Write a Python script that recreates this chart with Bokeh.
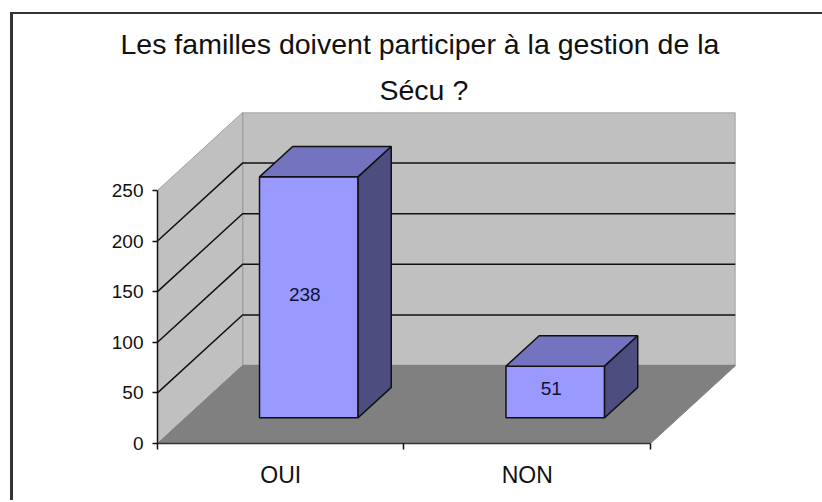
from bokeh.plotting import figure
from bokeh.models import Range1d, FixedTicker, Title
from bokeh.embed import file_html
from bokeh.resources import INLINE
from bokeh.core.properties import value as val

TITLE_LINES = ["Les familles doivent participer à la gestion de la", "Sécu ?"]
categories = ["OUI", "NON"]
values = [238, 51]
y_ticks = [0, 50, 100, 150, 200, 250]

FONT = "Liberation Sans"
# oblique projection: a point at depth d (0 front .. 1 back) is shifted by d*DX, d*DY in data units
DX = 0.345
DY = 77.0
BAR_W = 0.40
D_FRONT, D_BACK = 0.33, 0.72
n = len(categories)
ymax = y_ticks[-1]

def pt(x, y, d):
    return x + d * DX, y + d * DY

def quad(*corners):
    xs, ys = zip(*[pt(*c) for c in corners])
    return list(xs), list(ys)

p = figure(width=809, height=488, output_backend="svg", toolbar_location=None, title=None,
           x_range=Range1d(0, n + DX), y_range=Range1d(0, ymax + DY),
           min_border_left=144, min_border_right=87, min_border_top=98, min_border_bottom=59,
           background_fill_color=None, border_fill_color="white", outline_line_color=None,
           margin=(14, 0, 0, 13))
p.styles = {"box-shadow": "-3px -2px 0 0 #333333, 0 -2px 0 0 #333333"}
p.grid.visible = False

# back wall
xs, ys = quad((0, 0, 1), (n, 0, 1), (n, ymax, 1), (0, ymax, 1))
p.patch(xs, ys, fill_color="#c0c0c0", line_color="#909090", line_width=1.5)
# left wall
xs, ys = quad((0, 0, 0), (0, 0, 1), (0, ymax, 1), (0, ymax, 0))
p.patch(xs, ys, fill_color="#c0c0c0", line_color="#a0a0a0", line_width=1)
# floor
xs, ys = quad((0, 0, 0), (n, 0, 0), (n, 0, 1), (0, 0, 1))
p.patch(xs, ys, fill_color="#808080", line_color="#808080", line_width=1)
# gridlines
for t in y_ticks[1:-1]:
    xs, ys = quad((0, t, 0), (0, t, 1), (n, t, 1))
    p.line(xs, ys, line_color="#111111", line_width=1.5)

# bars
for i, v in enumerate(values):
    x0 = i + 0.5 - BAR_W / 2
    x1 = i + 0.5 + BAR_W / 2
    xs, ys = quad((x0, 0, D_FRONT), (x1, 0, D_FRONT), (x1, v, D_FRONT), (x0, v, D_FRONT))
    p.patch(xs, ys, fill_color="#9999ff", line_color="#111111", line_width=1.5)
    xs, ys = quad((x0, v, D_FRONT), (x1, v, D_FRONT), (x1, v, D_BACK), (x0, v, D_BACK))
    p.patch(xs, ys, fill_color="#7373bf", line_color="#111111", line_width=1.5)
    xs, ys = quad((x1, 0, D_FRONT), (x1, 0, D_BACK), (x1, v, D_BACK), (x1, v, D_FRONT))
    p.patch(xs, ys, fill_color="#4d4d80", line_color="#111111", line_width=1.5)
    cx, cy = pt(i + 0.5, v / 2, D_FRONT)
    p.text([cx], [cy], text=[str(v)], text_align="center", text_baseline="middle",
           x_offset=-4, y_offset=-3,
           text_font=val(FONT), text_font_size="19px", text_color="#111133")

# axes
ax = p.yaxis[0]
ax.ticker = FixedTicker(ticks=y_ticks)
ax.bounds = (0, ymax)
ax.minor_tick_line_color = None
ax.major_tick_in = 0
ax.major_tick_out = 5
ax.axis_line_color = ax.major_tick_line_color = "#111111"
ax.axis_line_width = ax.major_tick_line_width = 1.5
ax.major_label_text_font = FONT
ax.major_label_text_font_size = "19px"
ax.major_label_text_color = "#111111"
ax.major_label_standoff = 9

bx = p.xaxis[0]
centers = [i + 0.5 for i in range(n)]
bx.ticker = FixedTicker(ticks=centers, minor_ticks=list(range(n + 1)))
bx.major_label_overrides = {c: s for c, s in zip(centers, categories)}
bx.bounds = (0, n)
bx.major_tick_line_color = None
bx.major_tick_in = 0
bx.major_tick_out = 6
bx.minor_tick_in = 0
bx.minor_tick_out = 6
bx.minor_tick_line_color = "#111111"
bx.minor_tick_line_width = 1.5
bx.axis_line_color = "#333333"
bx.axis_line_width = 1.5
bx.major_label_text_font = FONT
bx.major_label_text_font_size = "23px"
bx.major_label_text_color = "#111111"
bx.major_label_standoff = 12

# two-line title, stacked above the plot frame
for text, off, stand in zip(TITLE_LINES[::-1], [222, -37], [14, 9]):
    p.add_layout(Title(text=text, align="left", offset=off, text_font=FONT, text_font_size="28.5px",
                       text_font_style="normal", text_color="#111111", standoff=stand), "above")

open("out.html", "w").write(file_html(p, INLINE))
